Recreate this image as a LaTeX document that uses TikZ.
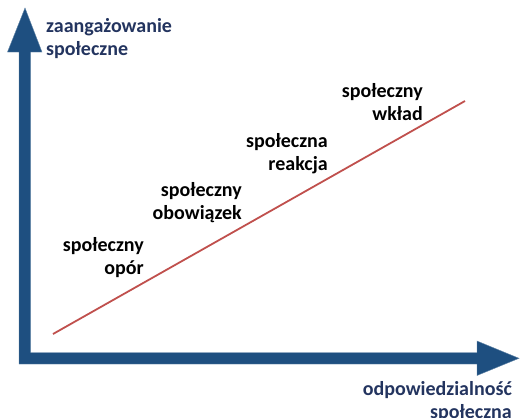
\documentclass[tikz,border=0pt]{standalone}
\usepackage{fontspec}
\setmainfont{Carlito}
\definecolor{axisblue}{RGB}{30,79,128}
\definecolor{axistext}{RGB}{35,52,95}
\definecolor{trendred}{RGB}{192,80,77}
\tikzset{
  axisshape/.style={fill=axisblue, draw=axisblue!70!white, line width=0.4pt},
  stagelabel/.style={font=\bfseries\fontsize{20}{23}\selectfont, text=black,
    align=right, inner sep=0pt, anchor=north east},
  axislabel/.style={font=\bfseries\fontsize{20}{23}\selectfont, text=axistext,
    inner sep=0pt},
  trend/.style={draw=trendred, line width=1.8pt}
}
\begin{document}
\begin{tikzpicture}[x=1pt, y=-1pt]
\useasboundingbox (0,0) rectangle (520,418);

% axes: L-shaped frame with two arrowheads
\path[axisshape]
  (19,52) -- (7.5,52) -- (25,8) -- (42,52) -- (30.5,52)
  -- (30.5,352.5) -- (477,352.5) -- (477,341) -- (519,358.3)
  -- (477,375.5) -- (477,364) -- (19,364) -- cycle;

% axis titles
\node[axislabel, anchor=north west, align=left] (yaxis) at (46,18)
  {zaangażowanie\\społeczne};
\node[axislabel, anchor=north east, align=right] (xaxis) at (512,381)
  {odpowiedzialność\\społeczna};

% trend line
\coordinate (lo) at (53,334);
\coordinate (hi) at (465,101);
\draw[trend] (lo) -- (hi);

% stage labels along the line
\node[stagelabel] (opor) at (144,237) {społeczny\\opór};
\node[stagelabel] (obow) at (242,182) {społeczny\\obowiązek};
\node[stagelabel] (reak) at (328,133) {społeczna\\reakcja};
\node[stagelabel] (wklad) at (423,83) {społeczny\\wkład};
\end{tikzpicture}
\end{document}
